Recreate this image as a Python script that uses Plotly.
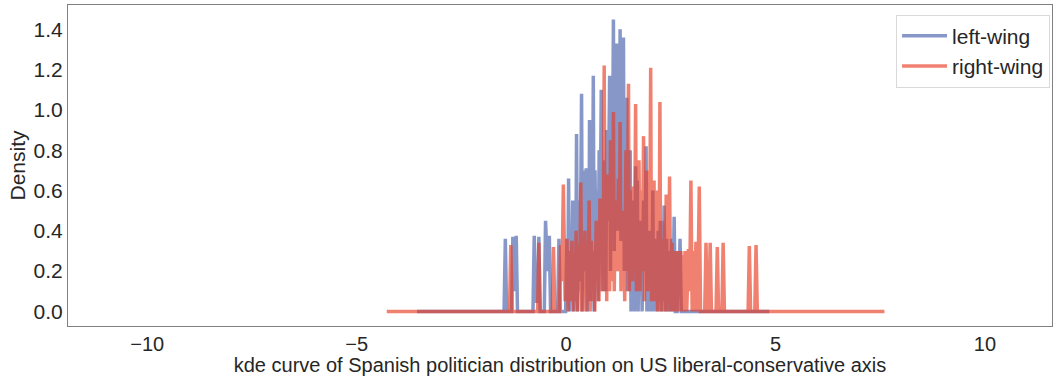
import plotly.graph_objects as go

# Peak positions / heights of the KDE curves and the dip heights between neighbouring peaks
left_start, left_end = -3.56, 4.85
left_peak_x = [-1.45, -1.27, -1.19, -0.76, -0.65, -0.49, -0.40, -0.17,
               0.02, 0.06, 0.10, 0.16, 0.21, 0.25, 0.30, 0.37, 0.41, 0.45,
               0.48, 0.53, 0.56, 0.60, 0.65, 0.69, 0.74, 0.79, 0.84, 0.88,
               0.93, 0.97, 1.04, 1.08, 1.13, 1.17, 1.21, 1.25, 1.29, 1.33,
               1.37, 1.41, 1.45, 1.49, 1.53, 1.57, 1.61, 1.66, 1.70, 1.74,
               1.78, 1.85, 1.91, 1.95, 1.99, 2.03, 2.07, 2.11, 2.15, 2.20,
               2.25, 2.29, 2.34, 2.40, 2.45, 2.52, 2.58, 2.68, 2.72]
left_peak_y = [0.36, 0.37, 0.375, 0.375, 0.37, 0.45, 0.375, 0.36,
               0.36, 0.66, 0.40, 0.55, 0.36, 0.88, 0.55, 1.08, 0.50, 0.70,
               0.71, 0.60, 0.95, 0.45, 1.17, 0.70, 0.60, 0.80, 1.10, 0.70,
               0.75, 0.90, 1.17, 1.00, 1.449, 1.10, 1.33, 1.05, 1.40, 0.95,
               1.36, 0.80, 1.06, 0.70, 0.80, 0.45, 0.55, 0.72, 0.65, 0.40,
               0.45, 0.55, 0.82, 0.36, 0.40, 0.30, 0.60, 0.36, 0.35, 0.40,
               0.45, 0.30, 0.525, 0.36, 0.30, 0.36, 0.47, 0.30, 0.36]
left_dip_y = [0.0, 0.10, 0.0, 0.05, 0.0, 0.20, 0.0, 0.0,
              0.05, 0.0, 0.05, 0.0, 0.10, 0.0, 0.15, 0.0, 0.20, 0.30,
              0.0, 0.20, 0.05, 0.10, 0.0, 0.30, 0.05, 0.40, 0.10, 0.35,
              0.10, 0.45, 0.20, 0.60, 0.30, 0.70, 0.40, 0.80, 0.35, 0.60,
              0.20, 0.50, 0.10, 0.30, 0.0, 0.15, 0.0, 0.25, 0.0, 0.10,
              0.0, 0.20, 0.0, 0.10, 0.0, 0.05, 0.0, 0.10, 0.0, 0.05,
              0.0, 0.05, 0.0, 0.0, 0.0, 0.0, 0.0, 0.12]

right_start, right_end = -4.28, 7.60
right_peak_x = [-1.32, -0.65, -0.30, -0.13, -0.065,
                0.02, 0.08, 0.14, 0.19, 0.24, 0.30, 0.35, 0.40, 0.45, 0.50,
                0.55, 0.60, 0.65, 0.72, 0.76, 0.81, 0.86, 0.91, 0.95, 0.99,
                1.02, 1.06, 1.09, 1.13, 1.17, 1.21, 1.25, 1.29, 1.33, 1.37,
                1.43, 1.49, 1.53, 1.57, 1.61, 1.66, 1.70, 1.74, 1.79, 1.85,
                1.89, 1.93, 1.97, 2.02, 2.06, 2.10, 2.13, 2.17, 2.20, 2.24,
                2.28, 2.32, 2.35, 2.39, 2.43, 2.47, 2.53, 2.58, 2.63, 2.69,
                2.74, 2.79, 2.84, 2.92, 2.98, 3.04, 3.10, 3.18, 3.34, 3.44,
                3.61, 3.75, 4.375, 4.535]
right_peak_y = [0.33, 0.34, 0.32, 0.33, 0.63,
                0.36, 0.30, 0.35, 0.28, 0.40, 0.33, 0.64, 0.35, 0.40, 0.30,
                0.55, 0.35, 0.30, 0.45, 0.40, 0.56, 0.50, 1.22, 0.60, 0.68,
                0.55, 0.85, 0.70, 0.99, 0.45, 0.55, 0.66, 0.94, 0.50, 0.50,
                0.80, 1.13, 0.55, 0.60, 0.62, 1.03, 0.55, 0.75, 0.60, 0.87,
                0.50, 0.70, 0.68, 1.21, 0.50, 0.65, 0.45, 0.60, 0.40, 1.04,
                0.35, 0.36, 0.45, 0.58, 0.35, 0.67, 0.34, 0.30, 0.30, 0.30,
                0.30, 0.28, 0.30, 0.31, 0.65, 0.30, 0.345, 0.62, 0.34, 0.34,
                0.32, 0.34, 0.325, 0.33]
right_dip_y = [0.0, 0.0, 0.0, 0.15, 0.05,
               0.0, 0.05, 0.0, 0.05, 0.0, 0.10, 0.0, 0.10, 0.0, 0.05,
               0.0, 0.05, 0.0, 0.15, 0.05, 0.20, 0.10, 0.20, 0.05, 0.25,
               0.10, 0.30, 0.15, 0.10, 0.20, 0.30, 0.20, 0.10, 0.25, 0.05,
               0.20, 0.10, 0.30, 0.15, 0.30, 0.10, 0.25, 0.10, 0.20, 0.05,
               0.20, 0.10, 0.30, 0.05, 0.15, 0.05, 0.20, 0.0, 0.10, 0.0,
               0.10, 0.0, 0.10, 0.0, 0.05, 0.0, 0.0, 0.0, 0.0, 0.0,
               0.0, 0.0, 0.0, 0.10, 0.0, 0.0, 0.0, 0.0, 0.0, 0.0,
               0.0, 0.0, 0.0]

series_names = ["left-wing", "right-wing"]
series_colors = ["rgba(69,95,171,0.65)", "rgba(232,60,35,0.65)"]
x_ticks = [-10, -5, 0, 5, 10]
y_ticks = [0.0, 0.2, 0.4, 0.6, 0.8, 1.0, 1.2, 1.4]

SPIKE_HALF = 0.03  # half-width of an isolated spike on the axis


def curve(start, end, px, py, dips):
    """Join the peaks into one polyline that rests on the baseline at both ends."""
    xs, ys = [start, px[0] - SPIKE_HALF], [0.0, 0.0]
    for i in range(len(px)):
        xs.append(px[i])
        ys.append(py[i])
        if i < len(dips):
            gap = px[i + 1] - px[i]
            if gap > 3 * SPIKE_HALF:
                xs += [px[i] + SPIKE_HALF, px[i + 1] - SPIKE_HALF]
                ys += [dips[i], dips[i]]
            else:
                xs.append((px[i] + px[i + 1]) / 2)
                ys.append(dips[i])
    xs += [px[-1] + SPIKE_HALF, end]
    ys += [0.0, 0.0]
    return xs, ys


FONT = "Liberation Sans, Arial, sans-serif"
TEXT = "#262626"
SPINE = "#808080"
FS = 21
FS_X = 20

fig = go.Figure()
for name, color, args in [
    (series_names[0], series_colors[0], (left_start, left_end, left_peak_x, left_peak_y, left_dip_y)),
    (series_names[1], series_colors[1], (right_start, right_end, right_peak_x, right_peak_y, right_dip_y)),
]:
    xs, ys = curve(*args)
    fig.add_trace(go.Scatter(x=xs, y=ys, mode="lines", name=name,
                             line=dict(color=color, width=3.5)))

fig.update_layout(
    width=1054, height=376,
    margin=dict(l=68, r=2, t=5, b=50),
    paper_bgcolor="white", plot_bgcolor="white",
    font=dict(family=FONT, size=FS, color=TEXT),
    legend=dict(
        x=0.998, xanchor="right", y=0.97, yanchor="top",
        bgcolor="rgba(255,255,255,0.8)", bordercolor="#d9d9d9", borderwidth=1,
        font=dict(size=FS, color=TEXT),
        itemwidth=45,
    ),
)
fig.update_xaxes(
    range=[-11.89, 11.6], tickvals=x_ticks,
    showgrid=False, zeroline=False, ticks="",
    showline=True, mirror=True, linecolor=SPINE, linewidth=1.25,
    tickfont=dict(size=FS_X, color=TEXT),
    title=dict(text="kde curve of Spanish politician distribution on US liberal-conservative axis",
               font=dict(size=FS_X, color=TEXT), standoff=1),
)
fig.update_yaxes(
    range=[-0.0725, 1.521], tickvals=y_ticks, tickformat=".1f",
    showgrid=False, zeroline=False, ticks="",
    showline=True, mirror=True, linecolor=SPINE, linewidth=1.25,
    tickfont=dict(size=FS, color=TEXT),
    title=dict(text="Density", font=dict(size=FS, color=TEXT), standoff=2),
)

fig.write_html("out.html")
